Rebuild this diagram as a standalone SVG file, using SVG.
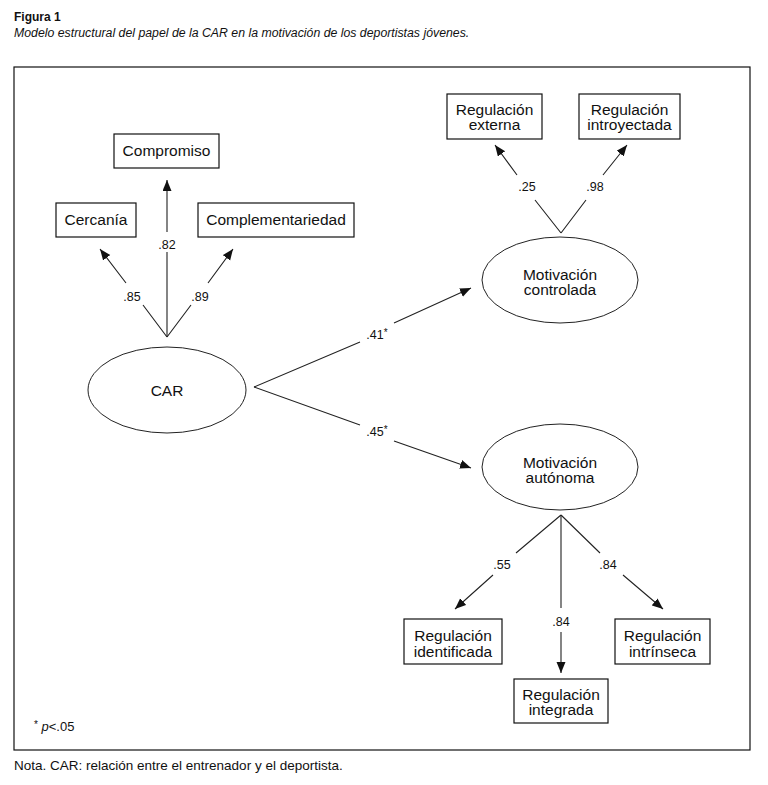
<svg xmlns="http://www.w3.org/2000/svg" width="768" height="785" viewBox="0 0 768 785">
<style>
text{font-family:"Liberation Sans",Arial,sans-serif;fill:#111}
.n{font-size:15.5px;text-anchor:middle}
.l{font-size:12.5px;text-anchor:middle}
.box{fill:#fff;stroke:#111;stroke-width:1.2}
.ell{fill:#fff;stroke:#222;stroke-width:1}
.c{fill:none;stroke:#222;stroke-width:1.1}
</style>
<defs>
<marker id="ah" markerUnits="userSpaceOnUse" markerWidth="12" markerHeight="10" refX="11" refY="4.5" orient="auto">
<path d="M0,0 L11,4.5 L0,9 Z" fill="#111"/>
</marker>
</defs>
<rect width="768" height="785" fill="#fff"/>
<text x="14" y="21" style="font-size:12px;font-weight:bold">Figura 1</text>
<text x="14" y="37" style="font-size:12.3px;font-style:italic">Modelo estructural del papel de la CAR en la motivación de los deportistas jóvenes.</text>
<rect x="14" y="67" width="736" height="683" fill="none" stroke="#111" stroke-width="1.2"/>
<g id="connectors">
<path class="c" d="M167,337 L167,252 M167,232 L167,180" marker-end="url(#ah)"/>
<path class="c" d="M167,337 L143,305 M126,283 L100,249" marker-end="url(#ah)"/>
<path class="c" d="M167,337 L191,305 M208,283 L233,249" marker-end="url(#ah)"/>
<path class="c" d="M254,387 L360,342 M394,323 L471,288" marker-end="url(#ah)"/>
<path class="c" d="M254,387 L360,425 M394,441 L471,468" marker-end="url(#ah)"/>
<path class="c" d="M561,233 L535,200 M517,175 L495,145" marker-end="url(#ah)"/>
<path class="c" d="M561,233 L586,200 M603,175 L627,145" marker-end="url(#ah)"/>
<path class="c" d="M561,515 L516,553 M493,575 L455,609" marker-end="url(#ah)"/>
<path class="c" d="M561,515 L561,608 M561,632 L561,673" marker-end="url(#ah)"/>
<path class="c" d="M561,515 L600,553 M623,575 L663,609" marker-end="url(#ah)"/>
<text class="l" x="167" y="249">.82</text>
<text class="l" x="132" y="301">.85</text>
<text class="l" x="200" y="301">.89</text>
<text class="l" x="377" y="339">.41<tspan font-size="10" dy="-3">*</tspan></text>
<text class="l" x="377" y="436">.45<tspan font-size="10" dy="-3">*</tspan></text>
<text class="l" x="527" y="191">.25</text>
<text class="l" x="595" y="191">.98</text>
<text class="l" x="502" y="569">.55</text>
<text class="l" x="608" y="569">.84</text>
<text class="l" x="561" y="626">.84</text>
</g>
<g id="compromiso"><rect class="box" x="114" y="134" width="105" height="34"/><text class="n" x="166.5" y="156">Compromiso</text></g>
<g id="cercania"><rect class="box" x="56" y="203" width="80" height="34"/><text class="n" x="96" y="225">Cercanía</text></g>
<g id="complementariedad"><rect class="box" x="198" y="203" width="156" height="34"/><text class="n" x="276" y="225">Complementariedad</text></g>
<g id="car"><ellipse class="ell" cx="167" cy="390" rx="79" ry="43"/><text class="n" x="167" y="396">CAR</text></g>
<g id="reg-externa"><rect class="box" x="447" y="94" width="95" height="45"/><text class="n" x="494.5" y="115">Regulación</text><text class="n" x="494.5" y="130">externa</text></g>
<g id="reg-introyectada"><rect class="box" x="579" y="94" width="101" height="45"/><text class="n" x="629.5" y="115">Regulación</text><text class="n" x="629.5" y="130">introyectada</text></g>
<g id="mot-controlada"><ellipse class="ell" cx="560" cy="280" rx="78" ry="43"/><text class="n" x="560" y="280">Motivación</text><text class="n" x="560" y="295">controlada</text></g>
<g id="mot-autonoma"><ellipse class="ell" cx="560" cy="467" rx="78" ry="43"/><text class="n" x="560" y="468">Motivación</text><text class="n" x="560" y="483">autónoma</text></g>
<g id="reg-identificada"><rect class="box" x="404" y="619" width="98" height="45"/><text class="n" x="453" y="641">Regulación</text><text class="n" x="453" y="657">identificada</text></g>
<g id="reg-intrinseca"><rect class="box" x="615" y="619" width="95" height="45"/><text class="n" x="662.5" y="641">Regulación</text><text class="n" x="662.5" y="657">intrínseca</text></g>
<g id="reg-integrada"><rect class="box" x="514" y="679" width="94" height="44"/><text class="n" x="561" y="700">Regulación</text><text class="n" x="561" y="715">integrada</text></g>
<text x="34" y="731" style="font-size:13px"><tspan font-size="10" dy="-3">*</tspan><tspan dy="3"> </tspan><tspan font-style="italic">p</tspan>&lt;.05</text>
<text x="14" y="770" style="font-size:13.5px">Nota. CAR: relación entre el entrenador y el deportista.</text>
</svg>
